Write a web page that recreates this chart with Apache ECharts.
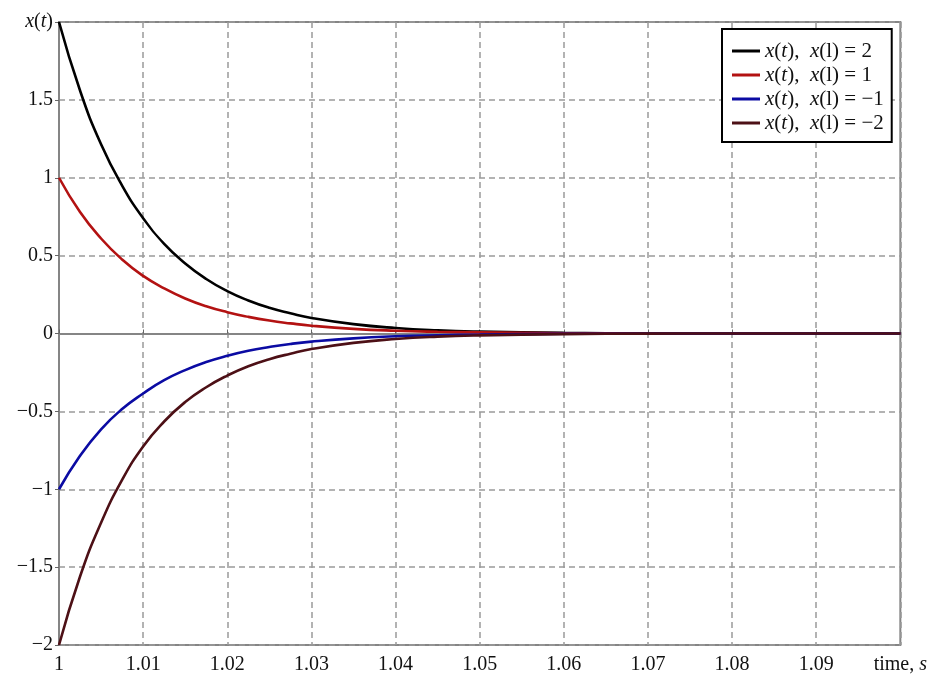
<!DOCTYPE html>
<html>
<head>
<meta charset="utf-8">
<script src="https://cdn.jsdelivr.net/npm/echarts@6/dist/echarts.min.js"></script>
<style>
html, body { margin: 0; padding: 0; background: #fff; }
#chart { width: 930px; height: 675px; }
</style>
</head>
<body>
<div id="chart"></div>
<script>
// time samples (s) and values
var time = [1, 1.0025, 1.005, 1.0075, 1.01, 1.0125, 1.015, 1.0175, 1.02, 1.0225, 1.025, 1.0275, 1.03, 1.035, 1.04, 1.045, 1.05, 1.06, 1.07, 1.08, 1.09, 1.1];
var xPlus2 = [2, 1.56, 1.215, 0.95, 0.74, 0.575, 0.45, 0.35, 0.272, 0.212, 0.165, 0.13, 0.10, 0.06, 0.035, 0.02, 0.012, 0.004, 0.001, 0, 0, 0];
var xPlus1 = [1, 0.78, 0.61, 0.475, 0.37, 0.29, 0.225, 0.175, 0.137, 0.107, 0.083, 0.065, 0.05, 0.03, 0.018, 0.011, 0.007, 0.002, 0.001, 0, 0, 0];
var xMinus1 = [-1, -0.785, -0.615, -0.485, -0.385, -0.3, -0.235, -0.183, -0.143, -0.111, -0.087, -0.067, -0.052, -0.031, -0.018, -0.011, -0.007, -0.002, -0.001, 0, 0, 0];
var xMinus2 = [-2, -1.56, -1.215, -0.94, -0.725, -0.565, -0.44, -0.345, -0.27, -0.21, -0.165, -0.13, -0.10, -0.06, -0.035, -0.02, -0.012, -0.004, -0.001, 0, 0, 0];

var names = ['p2', 'p1', 'm1', 'm2'];
var legendText = {
    p2: '{i|x}({i|t}),  {i|x}(l) = 2',
    p1: '{i|x}({i|t}),  {i|x}(l) = 1',
    m1: '{i|x}({i|t}),  {i|x}(l) = \u22121',
    m2: '{i|x}({i|t}),  {i|x}(l) = \u22122'
};
var colors = ['#000000', '#b31212', '#0b0ba3', '#4d1016'];

var pairs = function (ys) {
    return time.map(function (t, i) { return [t, ys[i]]; });
};

var serif = '"Liberation Serif", "DejaVu Serif", serif';
var dashed = { color: '#9a9a9a', width: 1.5, type: [6, 4] };

var myChart = echarts.init(document.getElementById('chart'));
var series = [xPlus2, xPlus1, xMinus1, xMinus2].map(function (ys, i) {
    return {
        name: names[i],
        type: 'line',
        data: pairs(ys),
        smooth: 0.5,
        symbol: 'none',
        lineStyle: { color: colors[i], width: 2.6 },
        itemStyle: { color: colors[i] }
    };
});

var option = {
    backgroundColor: '#fff',
    animation: false,
    grid: {
        left: 59, right: 25, top: 22, bottom: 28,
        show: true, borderColor: '#858585', borderWidth: 2
    },
    legend: {
        data: names,
        left: 722, top: 29,
        orient: 'vertical',
        padding: [11, 8, 8, 10],
        itemGap: 2,
        icon: 'rect',
        itemWidth: 28,
        itemHeight: 3,
        backgroundColor: '#fff',
        borderColor: '#000',
        borderWidth: 2,
        formatter: function (n) { return legendText[n]; },
        textStyle: {
            fontFamily: serif, fontSize: 21, lineHeight: 22, color: '#111',
            rich: { i: { fontFamily: serif, fontSize: 21, lineHeight: 22, fontStyle: 'italic', color: '#111' } }
        }
    },
    xAxis: {
        type: 'value',
        min: 1, max: 1.1, interval: 0.01,
        axisLine: { show: true, lineStyle: { color: '#858585', width: 2 } },
        axisTick: { show: true, inside: true, length: 4, lineStyle: { color: '#666' } },
        splitLine: { show: true, lineStyle: dashed },
        axisLabel: {
            margin: 10,
            fontFamily: serif, fontSize: 20, color: '#111',
            formatter: function (v) {
                if (Math.abs(v - 1.1) < 1e-6) return 'time, {i|s}';
                return String(+v.toFixed(2));
            },
            rich: { i: { fontFamily: serif, fontSize: 20, fontStyle: 'italic', color: '#111' } }
        }
    },
    yAxis: {
        type: 'value',
        min: -2, max: 2, interval: 0.5,
        axisLine: { show: true, lineStyle: { color: '#858585', width: 2 } },
        axisTick: { show: true, length: 4, lineStyle: { color: '#666' } },
        splitLine: { show: true, lineStyle: dashed },
        axisLabel: {
            margin: 6,
            fontFamily: serif, fontSize: 20, color: '#111',
            formatter: function (v) {
                if (v === 2) return '{i|x}({i|t})';
                return v < 0 ? '\u2212' + String(-v) : String(v);
            },
            rich: { i: { fontFamily: serif, fontSize: 20, fontStyle: 'italic', color: '#111' } }
        }
    },
    series: series
};
myChart.setOption(option);
</script>
</body>
</html>
